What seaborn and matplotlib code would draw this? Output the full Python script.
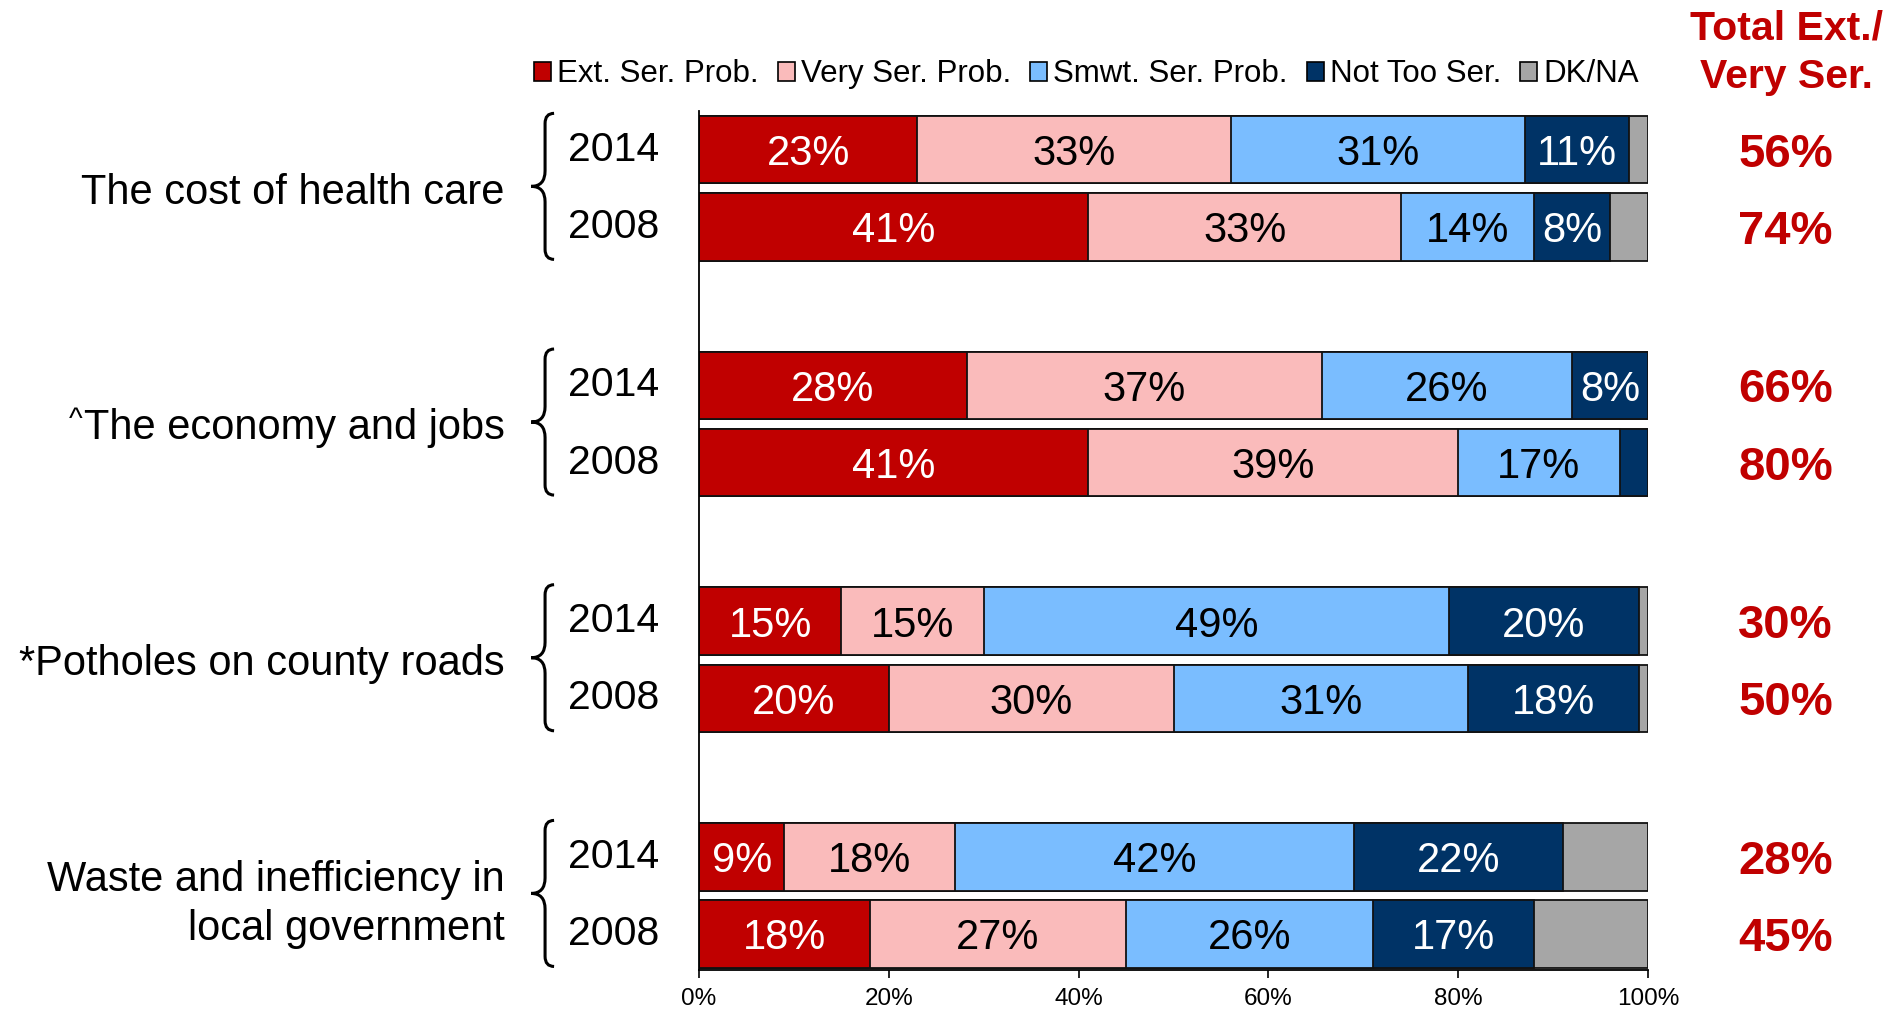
import numpy as np
import pandas as pd
import matplotlib
matplotlib.use('Agg')
import matplotlib.pyplot as plt
import matplotlib.transforms as mtransforms
from matplotlib.path import Path
from matplotlib.patches import PathPatch, Patch
import seaborn as sns

# data
topics = ["The cost of health care", "The economy and jobs",
          "*Potholes on county roads", "Waste and inefficiency in\nlocal government"]
topic_marks = ["", "^", "", ""]
years = ["2014", "2008"]
categories = ["Ext. Ser. Prob.", "Very Ser. Prob.", "Smwt. Ser. Prob.", "Not Too Ser.", "DK/NA"]

# one value per bar: health 14/08, economy 14/08, potholes 14/08, waste 14/08
ext_ser = [23, 41, 28.2, 41, 15, 20, 9, 18]
very_ser = [33, 33, 37.4, 39, 15, 30, 18, 27]
smwt_ser = [31, 14, 26.4, 17, 49, 31, 42, 26]
not_too = [11, 8, 8, 3, 20, 18, 22, 17]
dk_na = [2, 4, 0, 0, 1, 1, 9, 12]
totals = [56, 74, 66, 80, 30, 50, 28, 45]

colors = ['#C00000', '#FABBBB', '#7ABDFF', '#003366', '#A6A6A6']
label_colors = ['white', 'black', 'black', 'white', None]
RED = '#C00000'

GROUP_STEP = 3.05
BAR_W = 0.875

sns.set_style('white')
plt.rcParams['font.family'] = ['Liberation Sans', 'DejaVu Sans']
plt.rcParams['text.color'] = 'black'
plt.rcParams['xtick.color'] = 'black'
plt.rcParams['axes.labelcolor'] = 'black'

values = np.array([ext_ser, very_ser, smwt_ser, not_too, dk_na], dtype=float)
cum = np.cumsum(values, axis=0)

pos = [g * GROUP_STEP + i for g in range(len(topics)) for i in range(len(years))]
df = pd.DataFrame({'pos': pos})
for k, cat in enumerate(categories):
    df[cat] = cum[k]

fig = plt.figure(figsize=(18.93, 10.13), dpi=100)
ax = fig.add_axes([0.3693, 0.0429, 0.5013, 0.8475])

# stacked bars: draw cumulative totals from the outside in
for k in reversed(range(len(categories))):
    sns.barplot(data=df, x=categories[k], y='pos', orient='h', native_scale=True,
                color=colors[k], saturation=1, edgecolor='#111111', linewidth=1.3,
                width=BAR_W, errorbar=None, ax=ax)

for j, p in enumerate(pos):
    for k in range(4):
        v = values[k, j]
        if v >= 5:
            ax.text(cum[k, j] - v / 2, p, f"{round(v)}%", ha='center', va='center_baseline',
                    fontsize=30, color=label_colors[k])

ax.set_xlim(0, 100)
ax.set_ylim(10.61, -0.5)
ax.set_xlabel('')
ax.set_ylabel('')
ax.set_yticks([])
ax.set_xticks(range(0, 101, 20))
ax.set_xticklabels([f"{t}%" for t in range(0, 101, 20)])
ax.tick_params(axis='x', direction='out', length=6, width=1.2, color='black',
               labelcolor='black', labelsize=17.5, pad=7, bottom=True)
for side in ['top', 'right']:
    ax.spines[side].set_visible(False)
for side in ['left', 'bottom']:
    ax.spines[side].set_color('black')
    ax.spines[side].set_linewidth(1.3)

trans = mtransforms.blended_transform_factory(ax.transAxes, ax.transData)


def draw_brace(top, bot, x_tip=-0.177, x_body=-0.1623, x_end=-0.1528, r_end=0.13, r_mid=0.2):
    mid = (top + bot) / 2
    verts = [(x_end, top), (x_body, top), (x_body, top + r_end),
             (x_body, mid - r_mid), (x_body, mid), (x_tip, mid),
             (x_body, mid), (x_body, mid + r_mid),
             (x_body, bot - r_end), (x_body, bot), (x_end, bot)]
    codes = [Path.MOVETO, Path.CURVE3, Path.CURVE3, Path.LINETO, Path.CURVE3, Path.CURVE3,
             Path.CURVE3, Path.CURVE3, Path.LINETO, Path.CURVE3, Path.CURVE3]
    ax.add_patch(PathPatch(Path(verts, codes), fill=False, lw=2.2, color='black',
                           transform=trans, clip_on=False))


for g, topic in enumerate(topics):
    base = g * GROUP_STEP
    mid = base + 0.5
    txt = ax.text(-0.2047, mid, topic, transform=trans, ha='right', va='center_baseline',
                  fontsize=30, multialignment='right', linespacing=1.3)
    if topic_marks[g]:
        ax.annotate(topic_marks[g], xy=(0, 1), xycoords=txt, ha='right', va='top',
                    fontsize=21, xytext=(-1, 2), textcoords='offset points')
    draw_brace(base - 0.47, base + 1.42)
    for i, yr in enumerate(years):
        ax.text(-0.1386, base + i, yr, transform=trans, ha='left', va='center', fontsize=29.5)

for j, p in enumerate(pos):
    ax.text(1.145, p, f"{totals[j]}%", transform=trans, ha='center', va='center_baseline',
            fontsize=34, fontweight='bold', color=RED)

fig.text(0.9435, 0.9475, "Total Ext./\nVery Ser.", ha='center', va='center', fontsize=29.5,
         fontweight='bold', color=RED, linespacing=1.35)

handles = [Patch(facecolor=c, edgecolor='black', linewidth=1.2) for c in colors]
fig.legend(handles, categories, loc='center', bbox_to_anchor=(0.574, 0.9265), ncol=5,
           frameon=False, fontsize=22.5, handlelength=0.55, handleheight=0.55,
           handletextpad=0.2, columnspacing=0.6, borderpad=0)

fig.savefig('out.png', dpi=100)
